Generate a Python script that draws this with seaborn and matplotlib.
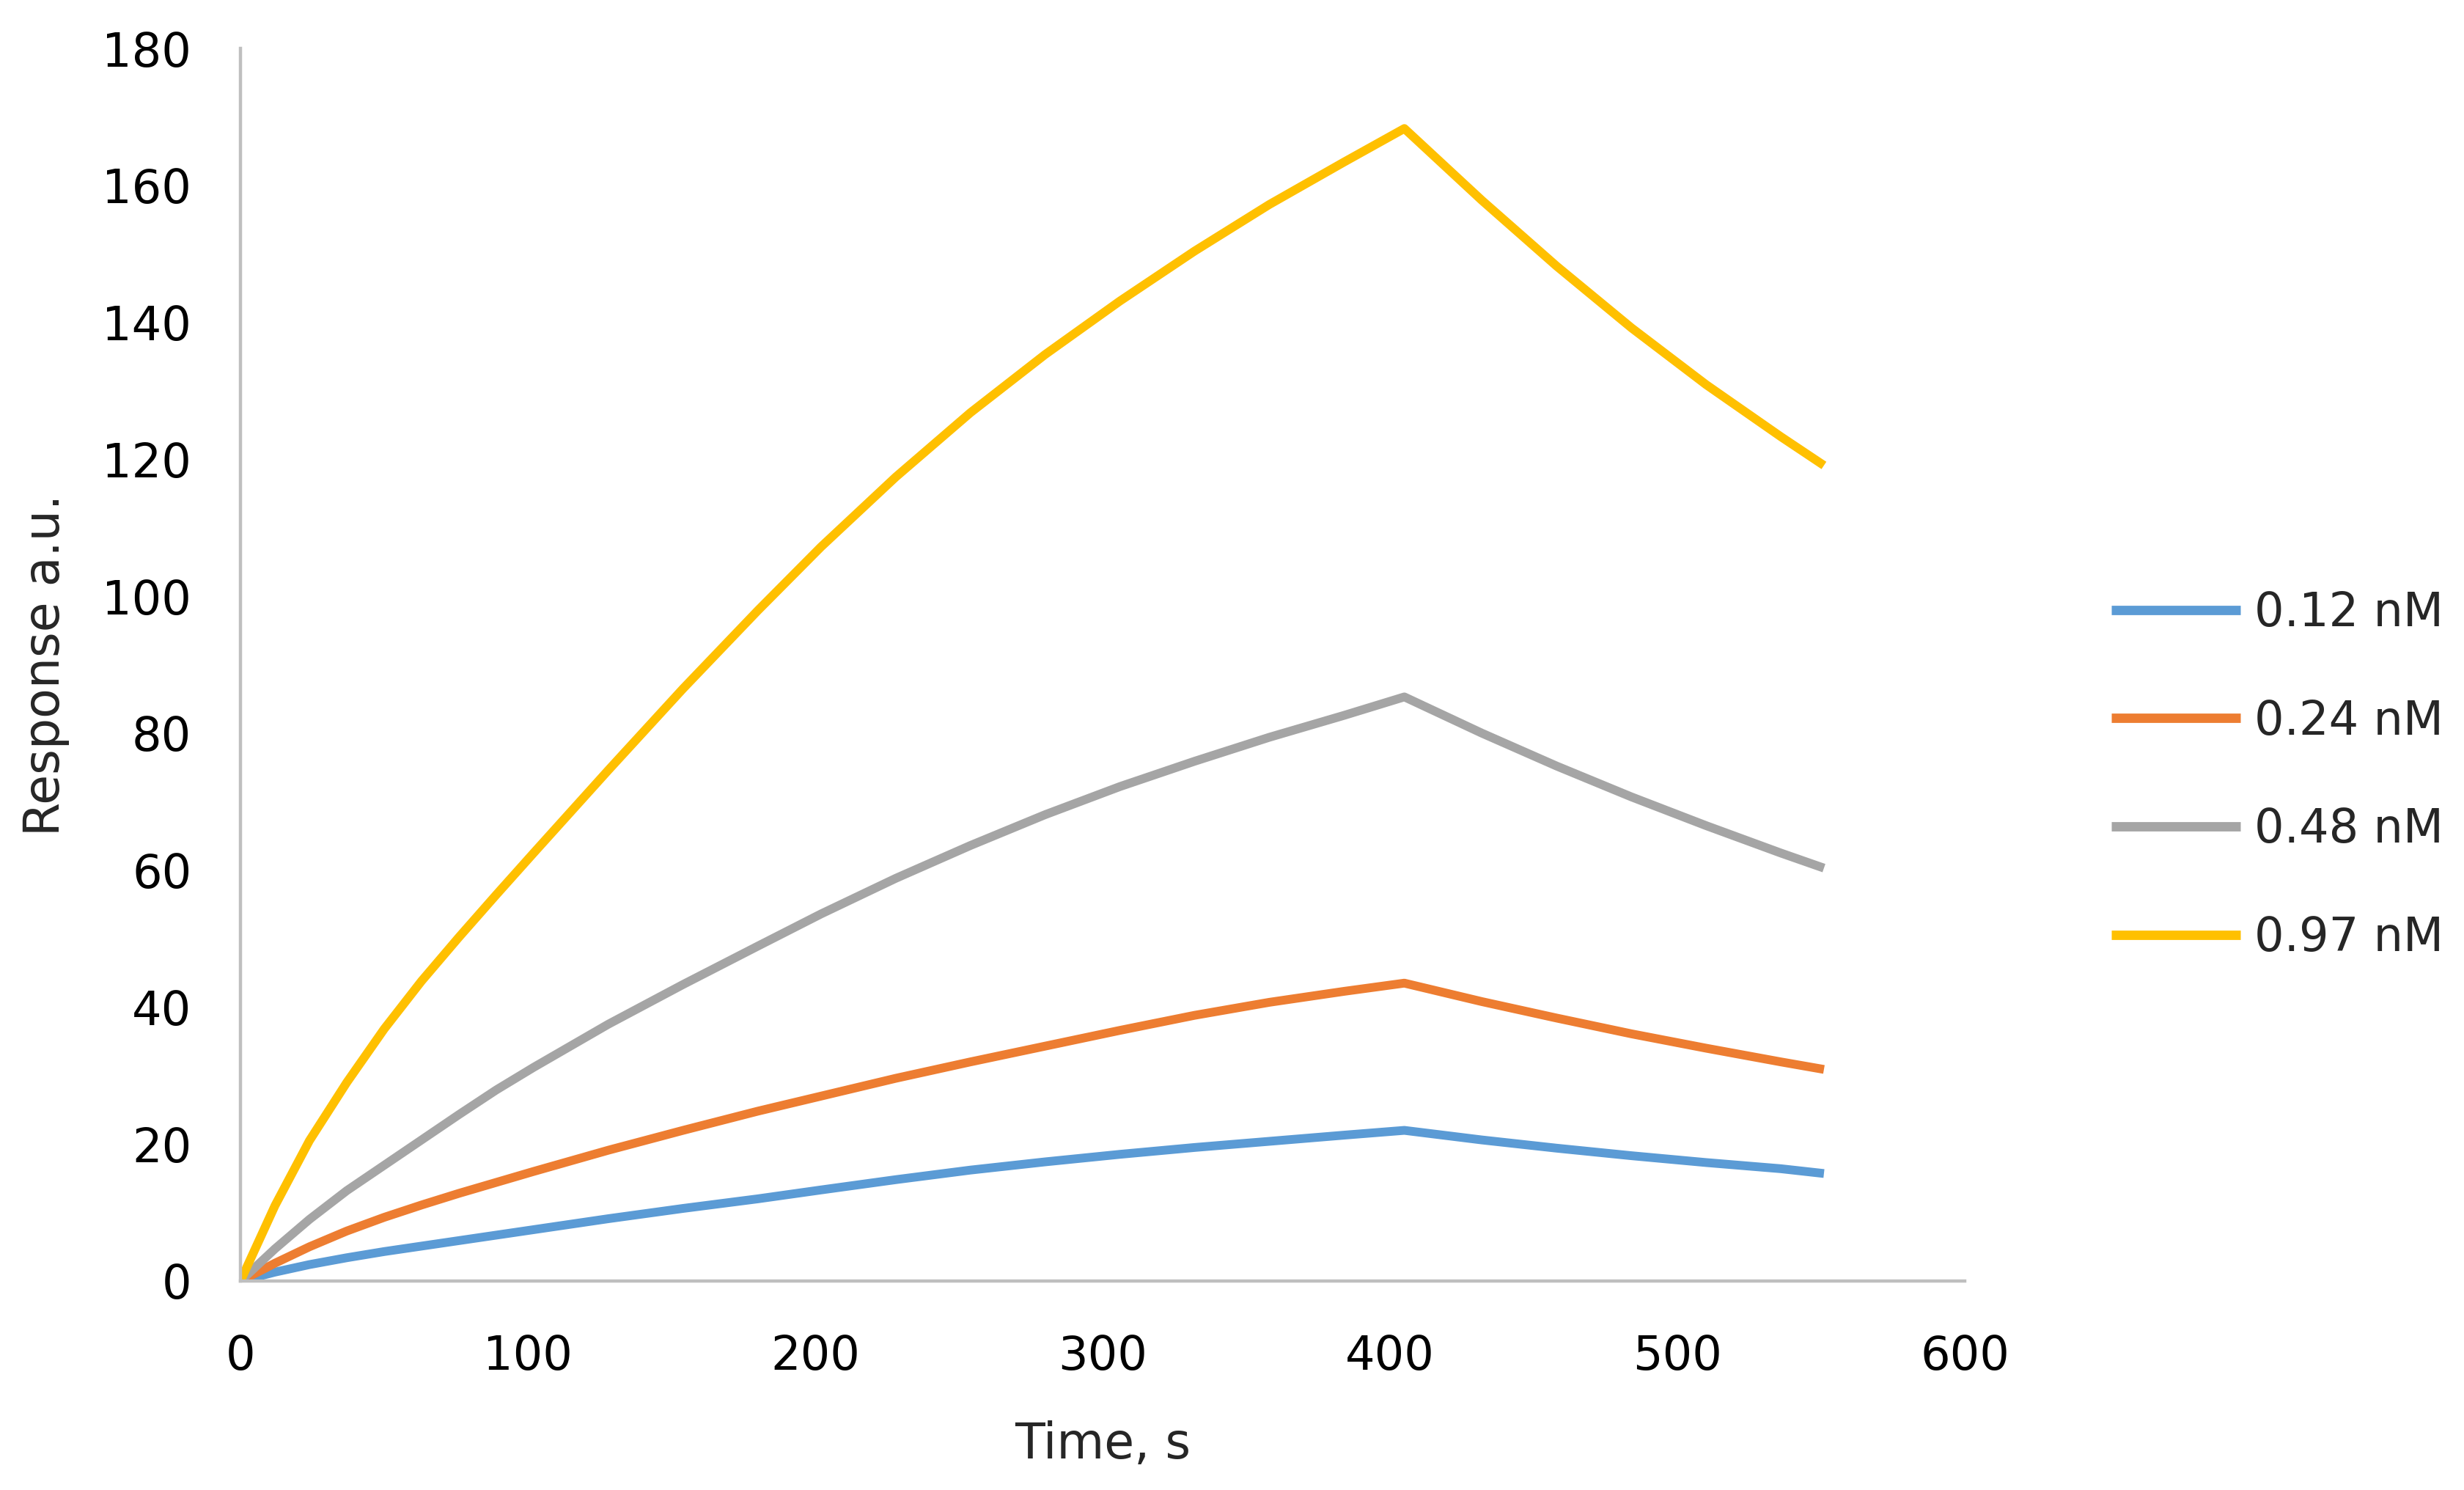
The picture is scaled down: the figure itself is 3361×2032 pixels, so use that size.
import numpy as np
import pandas as pd
import matplotlib
matplotlib.use("Agg")
import matplotlib.pyplot as plt
import seaborn as sns

# ---- data ----
time_s = [0, 12, 24, 37, 50, 63, 76, 89, 102, 128, 154, 180, 202, 228, 254, 280, 306, 332, 358, 384, 405,
          432, 458, 484, 510, 536, 551]
resp_012 = [0, 1.3, 2.4, 3.4, 4.3, 5.1, 5.9, 6.7, 7.5, 9.1, 10.6, 12.0, 13.3, 14.8, 16.2, 17.4, 18.5, 19.5, 20.4, 21.3, 22.0,
            20.6, 19.4, 18.3, 17.3, 16.4, 15.7]
resp_024 = [0, 2.6, 5.0, 7.3, 9.3, 11.1, 12.8, 14.4, 16.0, 19.1, 22.0, 24.8, 27.0, 29.6, 32.0, 34.3, 36.6, 38.8, 40.7, 42.3, 43.5,
            40.8, 38.4, 36.1, 34.0, 32.0, 30.9]
resp_048 = [0, 4.7, 9.0, 13.2, 16.9, 20.6, 24.3, 27.9, 31.2, 37.5, 43.3, 48.9, 53.6, 58.8, 63.6, 68.1, 72.2, 75.9, 79.4, 82.6, 85.3,
            80.0, 75.2, 70.7, 66.5, 62.5, 60.3]
resp_097 = [0, 11.0, 20.5, 29.0, 36.8, 43.8, 50.2, 56.4, 62.5, 74.6, 86.5, 97.9, 107.2, 117.4, 126.8, 135.3, 143.1, 150.4, 157.2, 163.4, 168.3,
            157.8, 148.2, 139.2, 130.9, 123.3, 119.1]
series_labels = ["0.12 nM", "0.24 nM", "0.48 nM", "0.97 nM"]
series_colors = ["#5B9BD5", "#ED7D31", "#A5A5A5", "#FFC000"]
x_ticks = [0, 100, 200, 300, 400, 500, 600]
y_ticks = [0, 20, 40, 60, 80, 100, 120, 140, 160, 180]

frames = []
for lab, vals in zip(series_labels, [resp_012, resp_024, resp_048, resp_097]):
    frames.append(pd.DataFrame({"Time": time_s, "Response": vals, "Conc": lab}))
df = pd.concat(frames, ignore_index=True)

sns.set_style("white")
plt.rcParams["font.family"] = ["DejaVu Sans"]

fig = plt.figure(figsize=(3362 / 200, 2032 / 200), dpi=200)
ax = fig.add_axes([328 / 3362, 285 / 2032, (2680 - 328) / 3362, (1966 - 285) / 2032])

sns.lineplot(data=df, x="Time", y="Response", hue="Conc", hue_order=series_labels,
             palette=series_colors, linewidth=4.3, ax=ax, sort=False, estimator=None)
for ln in ax.get_lines():
    ln.set_solid_joinstyle("round")
    ln.set_solid_capstyle("butt")

ax.set_xlim(0, 600)
ax.set_ylim(0, 180)
ax.set_xticks(x_ticks)
ax.set_yticks(y_ticks)
ax.tick_params(axis="both", length=0, labelsize=23, colors="#000000")
ax.tick_params(axis="y", pad=24)
ax.tick_params(axis="x", pad=26)
for s in ["top", "right"]:
    ax.spines[s].set_visible(False)
for s in ["left", "bottom"]:
    ax.spines[s].set_color("#BFBFBF")
    ax.spines[s].set_linewidth(1.6)

ax.set_xlabel("Time, s", fontsize=24, labelpad=20)
ax.set_ylabel("Response a.u.", fontsize=24)
ax.yaxis.set_label_coords(-0.099, 0.5)

leg = ax.legend(loc="center left", bbox_to_anchor=(2823 / 3362, 0.4796), bbox_transform=fig.transFigure,
                frameon=False, fontsize=23, handlelength=2.75, handletextpad=0.3, labelspacing=1.34,
                title=None)
for line in leg.get_lines():
    line.set_linewidth(4.6)

fig.savefig("out.png", dpi=200, facecolor="white")
